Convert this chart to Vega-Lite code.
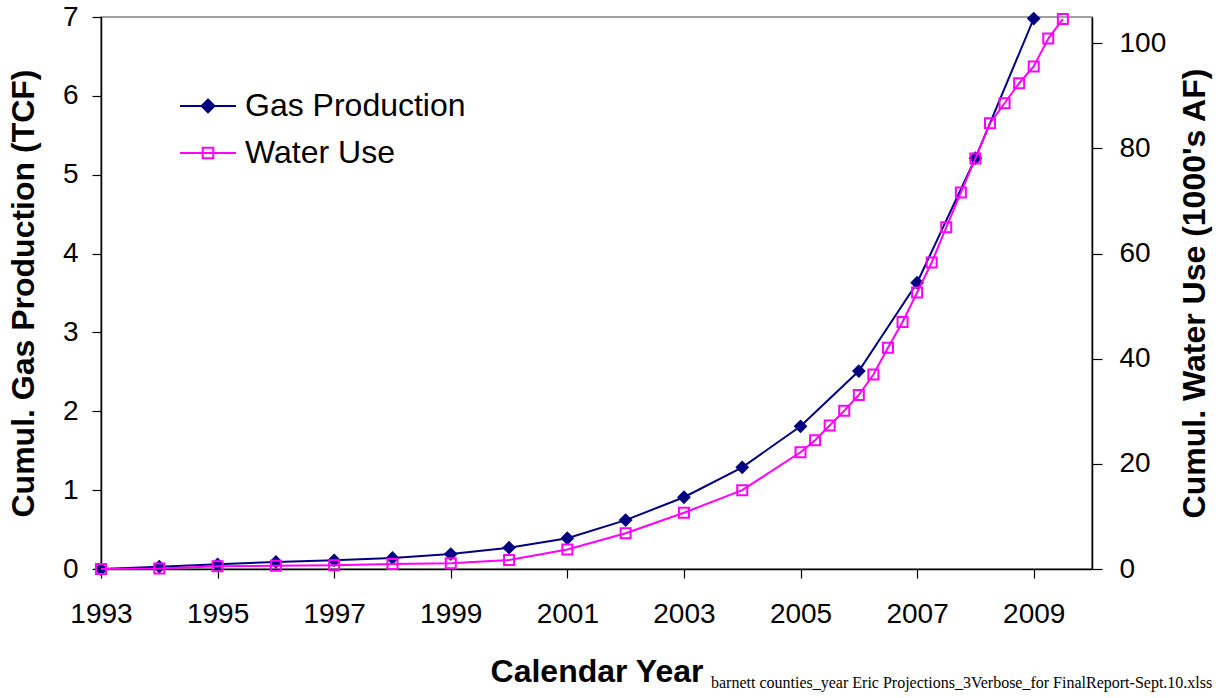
{
  "$schema": "https://vega.github.io/schema/vega-lite/v6.json",
  "width": 991,
  "height": 552,
  "autosize": {"type": "none"},
  "padding": {"left": 101, "top": 17, "right": 135, "bottom": 129},
  "background": "white",
  "config": {
    "font": "Liberation Sans",
    "view": {"stroke": "#808080", "strokeWidth": 1.5},
    "axis": {
      "grid": false,
      "domainColor": "black",
      "domainWidth": 1.5,
      "tickColor": "black",
      "tickWidth": 1.2,
      "labelFont": "Liberation Sans",
      "labelFontSize": 28,
      "labelColor": "black",
      "labelFlush": false,
      "titleFont": "Liberation Sans",
      "titleFontSize": 32,
      "titleFontWeight": "bold",
      "titleColor": "black"
    }
  },
  "title": {
    "text": "barnett counties_year Eric Projections_3Verbose_for FinalReport-Sept.10.xlss",
    "orient": "bottom",
    "anchor": "start",
    "frame": "group",
    "dx": 610,
    "offset": -12,
    "font": "Liberation Serif",
    "fontSize": 16,
    "fontWeight": "normal",
    "color": "black"
  },
  "datasets": {
    "gas": [
      {"year": 1993, "series": "Gas Production", "tcf": 0},
      {"year": 1994, "series": "Gas Production", "tcf": 0.03},
      {"year": 1995, "series": "Gas Production", "tcf": 0.06},
      {"year": 1996, "series": "Gas Production", "tcf": 0.09},
      {"year": 1997, "series": "Gas Production", "tcf": 0.11},
      {"year": 1998, "series": "Gas Production", "tcf": 0.14},
      {"year": 1999, "series": "Gas Production", "tcf": 0.19},
      {"year": 2000, "series": "Gas Production", "tcf": 0.27},
      {"year": 2001, "series": "Gas Production", "tcf": 0.39},
      {"year": 2002, "series": "Gas Production", "tcf": 0.62},
      {"year": 2003, "series": "Gas Production", "tcf": 0.91},
      {"year": 2004, "series": "Gas Production", "tcf": 1.29},
      {"year": 2005, "series": "Gas Production", "tcf": 1.81},
      {"year": 2006, "series": "Gas Production", "tcf": 2.51},
      {"year": 2007, "series": "Gas Production", "tcf": 3.63},
      {"year": 2008, "series": "Gas Production", "tcf": 5.21},
      {"year": 2009, "series": "Gas Production", "tcf": 6.98}
    ],
    "water": [
      {"year": 1993, "series": "Water Use", "kaf": 0},
      {"year": 1994, "series": "Water Use", "kaf": 0.1},
      {"year": 1995, "series": "Water Use", "kaf": 0.5},
      {"year": 1996, "series": "Water Use", "kaf": 0.6},
      {"year": 1997, "series": "Water Use", "kaf": 0.7},
      {"year": 1998, "series": "Water Use", "kaf": 0.95},
      {"year": 1999, "series": "Water Use", "kaf": 1.1},
      {"year": 2000, "series": "Water Use", "kaf": 1.7},
      {"year": 2001, "series": "Water Use", "kaf": 3.7},
      {"year": 2002, "series": "Water Use", "kaf": 6.8},
      {"year": 2003, "series": "Water Use", "kaf": 10.7},
      {"year": 2004, "series": "Water Use", "kaf": 15.0},
      {"year": 2005, "series": "Water Use", "kaf": 22.2},
      {"year": 2005.25, "series": "Water Use", "kaf": 24.5},
      {"year": 2005.5, "series": "Water Use", "kaf": 27.3},
      {"year": 2005.75, "series": "Water Use", "kaf": 30.1},
      {"year": 2006, "series": "Water Use", "kaf": 33.1},
      {"year": 2006.25, "series": "Water Use", "kaf": 37.0},
      {"year": 2006.5, "series": "Water Use", "kaf": 42.1},
      {"year": 2006.75, "series": "Water Use", "kaf": 47.0},
      {"year": 2007, "series": "Water Use", "kaf": 52.6},
      {"year": 2007.25, "series": "Water Use", "kaf": 58.3},
      {"year": 2007.5, "series": "Water Use", "kaf": 65.0},
      {"year": 2007.75, "series": "Water Use", "kaf": 71.6},
      {"year": 2008, "series": "Water Use", "kaf": 78.1},
      {"year": 2008.25, "series": "Water Use", "kaf": 84.8},
      {"year": 2008.5, "series": "Water Use", "kaf": 88.6},
      {"year": 2008.75, "series": "Water Use", "kaf": 92.4},
      {"year": 2009, "series": "Water Use", "kaf": 95.6},
      {"year": 2009.25, "series": "Water Use", "kaf": 100.9},
      {"year": 2009.5, "series": "Water Use", "kaf": 104.6}
    ]
  },
  "encoding": {
    "x": {
      "field": "year",
      "type": "quantitative",
      "scale": {"domain": [1993, 2010], "nice": false, "zero": false},
      "axis": {
        "values": [1993, 1995, 1997, 1999, 2001, 2003, 2005, 2007, 2009],
        "format": "d",
        "tickSize": 9,
        "labelPadding": 22,
        "title": "Calendar Year",
        "titleFontSize": 32,
        "titlePadding": 28
      }
    }
  },
  "layer": [
    {
      "data": {"name": "gas"},
      "encoding": {
        "y": {
          "field": "tcf",
          "type": "quantitative",
          "scale": {"domain": [0, 7], "nice": false},
          "axis": {
            "orient": "left",
            "values": [0, 1, 2, 3, 4, 5, 6, 7],
            "tickSize": 9,
            "labelPadding": 14,
            "title": "Cumul. Gas Production (TCF)",
            "titlePadding": 22
          }
        }
      },
      "layer": [
        {
          "mark": {"type": "line", "strokeWidth": 2},
          "encoding": {
            "color": {
              "field": "series",
              "type": "nominal",
              "scale": {"domain": ["Gas Production", "Water Use"], "range": ["#000080", "#ff00ff"]},
              "legend": {
                "orient": "none",
                "legendX": 78,
                "legendY": 60,
                "title": null,
                "padding": 0,
                "labelFont": "Liberation Sans",
                "labelFontSize": 32,
                "labelColor": "black",
                "labelLimit": 500,
                "labelOffset": 8,
                "rowPadding": 2,
                "symbolSize": 3136,
                "symbolStrokeWidth": 2,
                "encode": {
                  "symbols": {
                    "update": {
                      "shape": {"signal": "datum.value === 'Gas Production' ? 'M-1,0H1M0,-0.23L0.23,0L0,0.23L-0.23,0Z' : 'M-1,0H1M-0.19,-0.19H0.19V0.19H-0.19Z'"},
                      "fill": {"signal": "datum.value === 'Gas Production' ? '#000080' : 'transparent'"},
                      "stroke": {"signal": "datum.value === 'Gas Production' ? '#000080' : '#ff00ff'"},
                      "strokeWidth": {"value": 2},
                      "opacity": {"value": 1}
                    }
                  }
                }
              }
            }
          }
        },
        {
          "mark": {"type": "point", "shape": "diamond", "filled": true, "size": 190, "color": "#000080", "opacity": 1}
        }
      ]
    },
    {
      "data": {"name": "water"},
      "encoding": {
        "y": {
          "field": "kaf",
          "type": "quantitative",
          "scale": {"domain": [0, 105], "nice": false},
          "axis": {
            "orient": "right",
            "values": [0, 20, 40, 60, 80, 100],
            "tickSize": 10,
            "labelPadding": 17,
            "title": "Cumul. Water Use (1000's AF)",
            "titleAngle": 270,
            "titlePadding": 46
          }
        }
      },
      "layer": [
        {
          "mark": {"type": "line", "strokeWidth": 2},
          "encoding": {
            "color": {"field": "series", "type": "nominal"}
          }
        },
        {
          "mark": {"type": "point", "shape": "square", "filled": false, "size": 100, "strokeWidth": 2, "color": "#ff00ff", "opacity": 1}
        }
      ]
    }
  ],
  "resolve": {"scale": {"y": "independent"}, "axis": {"y": "independent"}}
}
